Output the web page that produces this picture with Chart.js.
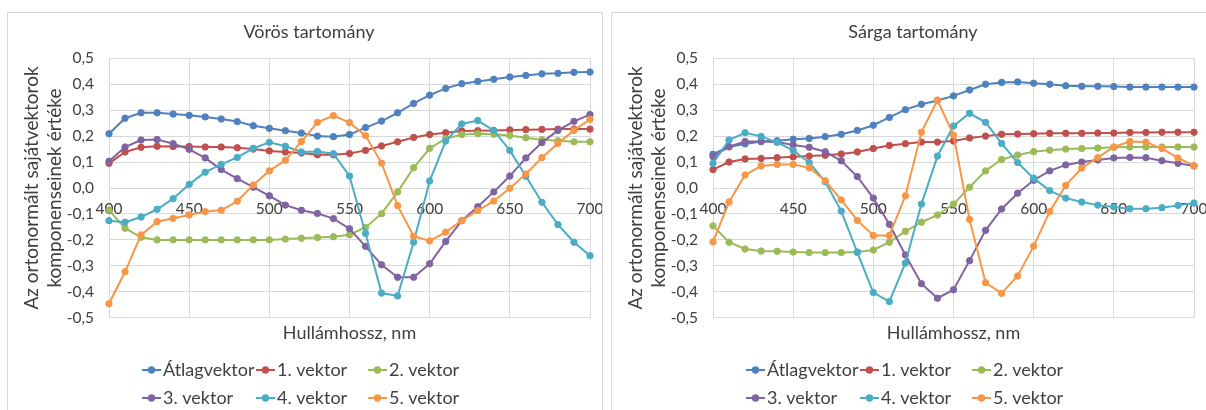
<!DOCTYPE html>
<html>
<head>
<meta charset="utf-8">
<script src="https://cdn.jsdelivr.net/npm/chart.js@4.4.1/dist/chart.umd.min.js"></script>
<style>
  html, body { margin: 0; padding: 0; background: #ffffff; width: 1206px; height: 410px; overflow: hidden; }
  .panel { position: absolute; top: 12px; width: 594px; height: 418px; border: 1px solid #d9d9d9; background: #ffffff; }
  #panelRed { left: 7px; }
  #panelYellow { left: 611px; }
  canvas { display: block; }
</style>
</head>
<body>
<div class="panel" id="panelRed"><canvas id="chartRed" width="594" height="418"></canvas></div>
<div class="panel" id="panelYellow"><canvas id="chartYellow" width="594" height="418"></canvas></div>
<script>
// Wavelengths (nm) of the sampled spectrum
const wavelengths = [400, 410, 420, 430, 440, 450, 460, 470, 480, 490, 500, 510, 520, 530, 540, 550,
                     560, 570, 580, 590, 600, 610, 620, 630, 640, 650, 660, 670, 680, 690, 700];

const seriesNames = ['Átlagvektor', '1. vektor', '2. vektor', '3. vektor', '4. vektor', '5. vektor'];

const xTicks = [400, 450, 500, 550, 600, 650, 700];
const yTicks = [-0.5, -0.4, -0.3, -0.2, -0.1, 0, 0.1, 0.2, 0.3, 0.4, 0.5];
const yTickLabels = ['-0,5', '-0,4', '-0,3', '-0,2', '-0,1', '0,0', '0,1', '0,2', '0,3', '0,4', '0,5'];

// Vörös tartomány
const redMean = [0.209, 0.269, 0.290, 0.290, 0.285, 0.280, 0.274, 0.266, 0.256, 0.240, 0.230, 0.221, 0.212, 0.200, 0.198, 0.206,
                 0.233, 0.258, 0.290, 0.326, 0.358, 0.384, 0.402, 0.411, 0.419, 0.428, 0.434, 0.440, 0.442, 0.446, 0.447];
const redVec1 = [0.095, 0.139, 0.157, 0.161, 0.160, 0.160, 0.158, 0.158, 0.155, 0.150, 0.143, 0.139, 0.135, 0.128, 0.128, 0.133,
                 0.145, 0.162, 0.178, 0.195, 0.206, 0.213, 0.220, 0.221, 0.222, 0.224, 0.225, 0.226, 0.227, 0.227, 0.227];
const redVec2 = [-0.085, -0.155, -0.190, -0.200, -0.200, -0.200, -0.200, -0.200, -0.200, -0.200, -0.200, -0.197, -0.194, -0.191, -0.188, -0.180,
                 -0.152, -0.099, -0.015, 0.078, 0.153, 0.190, 0.206, 0.209, 0.207, 0.202, 0.194, 0.186, 0.182, 0.178, 0.178];
const redVec3 = [0.103, 0.158, 0.185, 0.187, 0.171, 0.149, 0.116, 0.071, 0.036, 0.003, -0.030, -0.066, -0.086, -0.098, -0.118, -0.157,
                 -0.225, -0.296, -0.344, -0.344, -0.292, -0.206, -0.126, -0.072, -0.015, 0.046, 0.116, 0.175, 0.222, 0.257, 0.283];
const redVec4 = [-0.126, -0.132, -0.112, -0.082, -0.041, 0.014, 0.061, 0.091, 0.118, 0.153, 0.176, 0.161, 0.139, 0.141, 0.132, 0.046,
                 -0.175, -0.405, -0.416, -0.209, 0.027, 0.181, 0.247, 0.260, 0.222, 0.145, 0.045, -0.055, -0.141, -0.209, -0.261];
const redVec5 = [-0.446, -0.323, -0.181, -0.130, -0.117, -0.104, -0.091, -0.086, -0.051, 0.012, 0.066, 0.107, 0.179, 0.253, 0.279, 0.252,
                 0.202, 0.096, -0.068, -0.186, -0.204, -0.170, -0.126, -0.087, -0.050, -0.001, 0.054, 0.117, 0.172, 0.222, 0.265];

// Sárga tartomány
const yellowMean = [0.130, 0.159, 0.170, 0.179, 0.182, 0.188, 0.191, 0.198, 0.207, 0.222, 0.242, 0.272, 0.302, 0.323, 0.337, 0.355,
                    0.378, 0.400, 0.407, 0.409, 0.404, 0.400, 0.394, 0.392, 0.392, 0.391, 0.389, 0.389, 0.389, 0.389, 0.389];
const yellowVec1 = [0.071, 0.100, 0.112, 0.114, 0.117, 0.120, 0.123, 0.126, 0.131, 0.139, 0.152, 0.164, 0.171, 0.177, 0.177, 0.181,
                    0.193, 0.200, 0.207, 0.208, 0.209, 0.211, 0.211, 0.211, 0.212, 0.212, 0.214, 0.214, 0.215, 0.215, 0.215];
const yellowVec2 = [-0.146, -0.209, -0.235, -0.243, -0.244, -0.247, -0.249, -0.249, -0.249, -0.247, -0.239, -0.209, -0.167, -0.132, -0.104, -0.062,
                    0.003, 0.066, 0.110, 0.127, 0.140, 0.146, 0.150, 0.152, 0.154, 0.157, 0.158, 0.158, 0.158, 0.158, 0.158];
const yellowVec3 = [0.121, 0.159, 0.179, 0.179, 0.177, 0.166, 0.157, 0.140, 0.105, 0.044, -0.039, -0.140, -0.258, -0.369, -0.425, -0.392,
                    -0.280, -0.163, -0.081, -0.020, 0.030, 0.066, 0.089, 0.100, 0.108, 0.116, 0.118, 0.117, 0.105, 0.095, 0.085];
const yellowVec4 = [0.095, 0.185, 0.213, 0.199, 0.176, 0.145, 0.098, 0.024, -0.089, -0.248, -0.403, -0.438, -0.289, -0.062, 0.123, 0.239,
                    0.288, 0.253, 0.172, 0.098, 0.038, -0.010, -0.039, -0.054, -0.066, -0.073, -0.080, -0.080, -0.076, -0.067, -0.058];
const yellowVec5 = [-0.208, -0.054, 0.050, 0.085, 0.091, 0.091, 0.078, 0.028, -0.046, -0.125, -0.183, -0.183, -0.030, 0.215, 0.339, 0.204,
                    -0.121, -0.365, -0.406, -0.339, -0.224, -0.091, 0.010, 0.077, 0.117, 0.158, 0.179, 0.177, 0.152, 0.116, 0.086];

const seriesColors = ['#4f81bd', '#c0504d', '#9bbb59', '#8064a2', '#4bacc6', '#f79646'];
const FONT = 'Lato, "Open Sans", sans-serif';
const TEXT = '#404040';
const GRID = '#d9d9d9';

// Legend laid out as a 3-column grid under the plot
const gridLegend = {
  id: 'gridLegend',
  afterDraw(chart) {
    const ctx = chart.ctx;
    const colX = [134, 248, 360];
    const rowY = [357, 385];
    ctx.save();
    ctx.font = '18px ' + FONT;
    ctx.textBaseline = 'middle';
    ctx.textAlign = 'left';
    chart.data.datasets.forEach((ds, i) => {
      const x0 = colX[i % 3];
      const y = rowY[Math.floor(i / 3)];
      ctx.strokeStyle = ds.borderColor;
      ctx.lineWidth = 2;
      ctx.beginPath();
      ctx.moveTo(x0, y);
      ctx.lineTo(x0 + 19, y);
      ctx.stroke();
      ctx.fillStyle = ds.borderColor;
      ctx.beginPath();
      ctx.arc(x0 + 9.5, y, 3.7, 0, Math.PI * 2);
      ctx.fill();
      ctx.fillStyle = TEXT;
      ctx.fillText(ds.label, x0 + 21, y);
    });
    ctx.restore();
  }
};

function makeChart(canvasId, titleText, series) {
  const datasets = series.map((values, i) => ({
    label: seriesNames[i],
    data: wavelengths.map((w, j) => ({ x: w, y: values[j] })),
    borderColor: seriesColors[i],
    backgroundColor: seriesColors[i],
    pointBackgroundColor: seriesColors[i],
    pointBorderColor: seriesColors[i],
    pointRadius: 3.2,
    pointBorderWidth: 1,
    borderWidth: 2,
    tension: 0,
    order: series.length - i,
    clip: false
  }));

  return new Chart(document.getElementById(canvasId), {
    type: 'line',
    data: { datasets },
    options: {
      responsive: false,
      animation: false,
      devicePixelRatio: 1,
      events: [],
      layout: { padding: { left: 20, right: 12, top: 0, bottom: 73.3 } },
      plugins: {
        legend: { display: false },
        tooltip: { enabled: false },
        title: {
          display: true,
          text: titleText,
          color: TEXT,
          font: { family: FONT, size: 18, weight: 'normal', lineHeight: 1.2 },
          padding: { top: 8.2, bottom: 15.5 }
        }
      },
      scales: {
        x: {
          type: 'linear',
          position: { y: 0 },
          min: 400,
          max: 700,
          afterBuildTicks: (scale) => { scale.ticks = xTicks.map(v => ({ value: v })); },
          afterFit: (scale) => { scale.paddingLeft = 0; scale.paddingRight = 0; },
          grid: { color: GRID, lineWidth: 1, drawTicks: false },
          border: { color: GRID, width: 1 },
          ticks: { color: TEXT, font: { family: FONT, size: 15.5 }, padding: 12, maxRotation: 0, autoSkip: false }
        },
        x2: {
          type: 'linear',
          position: 'bottom',
          min: 400,
          max: 700,
          grid: { display: false },
          border: { display: false },
          ticks: { display: false },
          title: {
            display: true,
            text: 'Hullámhossz, nm',
            color: TEXT,
            font: { family: FONT, size: 18, lineHeight: 1.2 },
            padding: { top: 0, bottom: 13.9 }
          },
          afterFit: (scale) => { scale.height = 40; scale.paddingLeft = 0; scale.paddingRight = 0; }
        },
        y: {
          type: 'linear',
          position: 'left',
          min: -0.5,
          max: 0.5,
          afterBuildTicks: (scale) => { scale.ticks = yTicks.map(v => ({ value: v })); },
          grid: { color: GRID, lineWidth: 1, drawTicks: false },
          border: { display: false },
          ticks: {
            color: TEXT,
            font: { family: FONT, size: 15.5 },
            padding: 15,
            callback: (value, index) => yTickLabels[index]
          },
          title: {
            display: true,
            text: ['Az ortonormált sajátvektorok', 'komponenseinek értéke'],
            color: TEXT,
            font: { family: FONT, size: 19, lineHeight: '23px' },
            padding: { top: -7.5, bottom: 0 }
          },
          afterFit: (scale) => { scale.width = 81; }
        }
      }
    },
    plugins: [gridLegend]
  });
}

makeChart('chartRed', 'Vörös tartomány', [redMean, redVec1, redVec2, redVec3, redVec4, redVec5]);
makeChart('chartYellow', 'Sárga tartomány', [yellowMean, yellowVec1, yellowVec2, yellowVec3, yellowVec4, yellowVec5]);
</script>
</body>
</html>
